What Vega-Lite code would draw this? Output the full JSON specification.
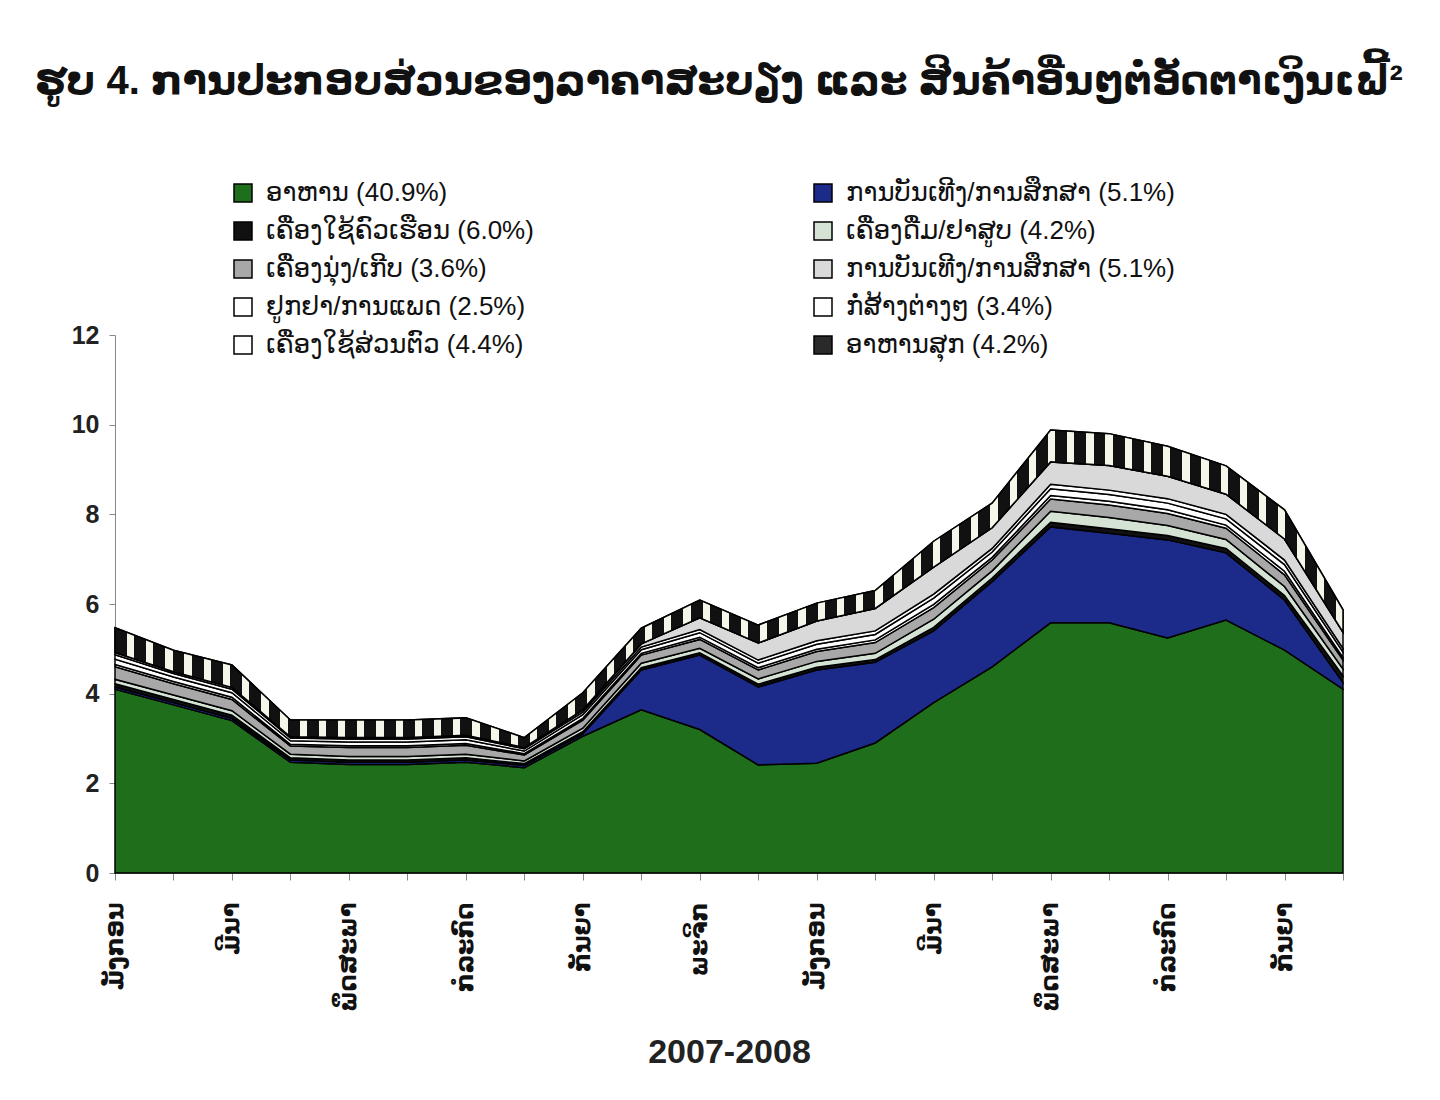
{
  "$schema": "https://vega.github.io/schema/vega-lite/v6.json",
  "width": 1228,
  "height": 538,
  "autosize": {"type": "none"},
  "padding": {"left": 115, "top": 335, "right": 97, "bottom": 227},
  "background": "white",
  "title": {
    "text": "ຮູບ 4. ການປະກອບສ່ວນຂອງລາຄາສະບຽງ ແລະ ສິນຄ້າອື່ນໆຕໍ່ອັດຕາເງິນເຟີ້²",
    "anchor": "start",
    "frame": "group",
    "font": "Liberation Sans, DejaVu Sans",
    "fontSize": 40,
    "fontWeight": "bold",
    "color": "#111111",
    "dx": -80,
    "offset": 78
  },
  "data": {
    "values": [
      {"m":"2007-01","c":"c01","v":4.1},{"m":"2007-01","c":"c02","v":0.05},{"m":"2007-01","c":"c03","v":0.07},{"m":"2007-01","c":"c04","v":0.1},{"m":"2007-01","c":"c05","v":0.28},{"m":"2007-01","c":"c06","v":0.05},{"m":"2007-01","c":"c07","v":0.12},{"m":"2007-01","c":"c08","v":0.1},{"m":"2007-01","c":"c09","v":0.05},{"m":"2007-01","c":"c10","v":0.55},
      {"m":"2007-02","c":"c01","v":3.75},{"m":"2007-02","c":"c02","v":0.05},{"m":"2007-02","c":"c03","v":0.07},{"m":"2007-02","c":"c04","v":0.1},{"m":"2007-02","c":"c05","v":0.25},{"m":"2007-02","c":"c06","v":0.05},{"m":"2007-02","c":"c07","v":0.1},{"m":"2007-02","c":"c08","v":0.08},{"m":"2007-02","c":"c09","v":0.04},{"m":"2007-02","c":"c10","v":0.48},
      {"m":"2007-03","c":"c01","v":3.4},{"m":"2007-03","c":"c02","v":0.05},{"m":"2007-03","c":"c03","v":0.07},{"m":"2007-03","c":"c04","v":0.1},{"m":"2007-03","c":"c05","v":0.25},{"m":"2007-03","c":"c06","v":0.05},{"m":"2007-03","c":"c07","v":0.1},{"m":"2007-03","c":"c08","v":0.08},{"m":"2007-03","c":"c09","v":0.04},{"m":"2007-03","c":"c10","v":0.5},
      {"m":"2007-04","c":"c01","v":2.47},{"m":"2007-04","c":"c02","v":0.05},{"m":"2007-04","c":"c03","v":0.05},{"m":"2007-04","c":"c04","v":0.08},{"m":"2007-04","c":"c05","v":0.18},{"m":"2007-04","c":"c06","v":0.04},{"m":"2007-04","c":"c07","v":0.08},{"m":"2007-04","c":"c08","v":0.06},{"m":"2007-04","c":"c09","v":0.03},{"m":"2007-04","c":"c10","v":0.37},
      {"m":"2007-05","c":"c01","v":2.42},{"m":"2007-05","c":"c02","v":0.05},{"m":"2007-05","c":"c03","v":0.05},{"m":"2007-05","c":"c04","v":0.08},{"m":"2007-05","c":"c05","v":0.2},{"m":"2007-05","c":"c06","v":0.04},{"m":"2007-05","c":"c07","v":0.08},{"m":"2007-05","c":"c08","v":0.07},{"m":"2007-05","c":"c09","v":0.03},{"m":"2007-05","c":"c10","v":0.39},
      {"m":"2007-06","c":"c01","v":2.42},{"m":"2007-06","c":"c02","v":0.05},{"m":"2007-06","c":"c03","v":0.05},{"m":"2007-06","c":"c04","v":0.08},{"m":"2007-06","c":"c05","v":0.2},{"m":"2007-06","c":"c06","v":0.04},{"m":"2007-06","c":"c07","v":0.08},{"m":"2007-06","c":"c08","v":0.07},{"m":"2007-06","c":"c09","v":0.03},{"m":"2007-06","c":"c10","v":0.39},
      {"m":"2007-07","c":"c01","v":2.47},{"m":"2007-07","c":"c02","v":0.05},{"m":"2007-07","c":"c03","v":0.05},{"m":"2007-07","c":"c04","v":0.08},{"m":"2007-07","c":"c05","v":0.2},{"m":"2007-07","c":"c06","v":0.04},{"m":"2007-07","c":"c07","v":0.08},{"m":"2007-07","c":"c08","v":0.07},{"m":"2007-07","c":"c09","v":0.03},{"m":"2007-07","c":"c10","v":0.39},
      {"m":"2007-08","c":"c01","v":2.35},{"m":"2007-08","c":"c02","v":0.05},{"m":"2007-08","c":"c03","v":0.04},{"m":"2007-08","c":"c04","v":0.06},{"m":"2007-08","c":"c05","v":0.13},{"m":"2007-08","c":"c06","v":0.03},{"m":"2007-08","c":"c07","v":0.06},{"m":"2007-08","c":"c08","v":0.05},{"m":"2007-08","c":"c09","v":0.03},{"m":"2007-08","c":"c10","v":0.22},
      {"m":"2007-09","c":"c01","v":3.05},{"m":"2007-09","c":"c02","v":0.05},{"m":"2007-09","c":"c03","v":0.05},{"m":"2007-09","c":"c04","v":0.08},{"m":"2007-09","c":"c05","v":0.18},{"m":"2007-09","c":"c06","v":0.04},{"m":"2007-09","c":"c07","v":0.08},{"m":"2007-09","c":"c08","v":0.06},{"m":"2007-09","c":"c09","v":0.05},{"m":"2007-09","c":"c10","v":0.38},
      {"m":"2007-10","c":"c01","v":3.64},{"m":"2007-10","c":"c02","v":0.89},{"m":"2007-10","c":"c03","v":0.05},{"m":"2007-10","c":"c04","v":0.1},{"m":"2007-10","c":"c05","v":0.18},{"m":"2007-10","c":"c06","v":0.04},{"m":"2007-10","c":"c07","v":0.08},{"m":"2007-10","c":"c08","v":0.06},{"m":"2007-10","c":"c09","v":0.07},{"m":"2007-10","c":"c10","v":0.35},
      {"m":"2007-11","c":"c01","v":3.2},{"m":"2007-11","c":"c02","v":1.66},{"m":"2007-11","c":"c03","v":0.05},{"m":"2007-11","c":"c04","v":0.1},{"m":"2007-11","c":"c05","v":0.2},{"m":"2007-11","c":"c06","v":0.05},{"m":"2007-11","c":"c07","v":0.1},{"m":"2007-11","c":"c08","v":0.07},{"m":"2007-11","c":"c09","v":0.26},{"m":"2007-11","c":"c10","v":0.4},
      {"m":"2007-12","c":"c01","v":2.41},{"m":"2007-12","c":"c02","v":1.74},{"m":"2007-12","c":"c03","v":0.06},{"m":"2007-12","c":"c04","v":0.12},{"m":"2007-12","c":"c05","v":0.2},{"m":"2007-12","c":"c06","v":0.05},{"m":"2007-12","c":"c07","v":0.1},{"m":"2007-12","c":"c08","v":0.07},{"m":"2007-12","c":"c09","v":0.38},{"m":"2007-12","c":"c10","v":0.4},
      {"m":"2008-01","c":"c01","v":2.45},{"m":"2008-01","c":"c02","v":2.08},{"m":"2008-01","c":"c03","v":0.06},{"m":"2008-01","c":"c04","v":0.13},{"m":"2008-01","c":"c05","v":0.22},{"m":"2008-01","c":"c06","v":0.05},{"m":"2008-01","c":"c07","v":0.11},{"m":"2008-01","c":"c08","v":0.08},{"m":"2008-01","c":"c09","v":0.44},{"m":"2008-01","c":"c10","v":0.4},
      {"m":"2008-02","c":"c01","v":2.9},{"m":"2008-02","c":"c02","v":1.8},{"m":"2008-02","c":"c03","v":0.06},{"m":"2008-02","c":"c04","v":0.14},{"m":"2008-02","c":"c05","v":0.24},{"m":"2008-02","c":"c06","v":0.06},{"m":"2008-02","c":"c07","v":0.12},{"m":"2008-02","c":"c08","v":0.08},{"m":"2008-02","c":"c09","v":0.5},{"m":"2008-02","c":"c10","v":0.4},
      {"m":"2008-03","c":"c01","v":3.8},{"m":"2008-03","c":"c02","v":1.6},{"m":"2008-03","c":"c03","v":0.08},{"m":"2008-03","c":"c04","v":0.18},{"m":"2008-03","c":"c05","v":0.26},{"m":"2008-03","c":"c06","v":0.07},{"m":"2008-03","c":"c07","v":0.14},{"m":"2008-03","c":"c08","v":0.09},{"m":"2008-03","c":"c09","v":0.6},{"m":"2008-03","c":"c10","v":0.58},
      {"m":"2008-04","c":"c01","v":4.6},{"m":"2008-04","c":"c02","v":1.9},{"m":"2008-04","c":"c03","v":0.08},{"m":"2008-04","c":"c04","v":0.16},{"m":"2008-04","c":"c05","v":0.24},{"m":"2008-04","c":"c06","v":0.06},{"m":"2008-04","c":"c07","v":0.12},{"m":"2008-04","c":"c08","v":0.08},{"m":"2008-04","c":"c09","v":0.46},{"m":"2008-04","c":"c10","v":0.55},
      {"m":"2008-05","c":"c01","v":5.58},{"m":"2008-05","c":"c02","v":2.14},{"m":"2008-05","c":"c03","v":0.1},{"m":"2008-05","c":"c04","v":0.25},{"m":"2008-05","c":"c05","v":0.27},{"m":"2008-05","c":"c06","v":0.08},{"m":"2008-05","c":"c07","v":0.15},{"m":"2008-05","c":"c08","v":0.1},{"m":"2008-05","c":"c09","v":0.5},{"m":"2008-05","c":"c10","v":0.71},
      {"m":"2008-06","c":"c01","v":5.58},{"m":"2008-06","c":"c02","v":2.0},{"m":"2008-06","c":"c03","v":0.1},{"m":"2008-06","c":"c04","v":0.25},{"m":"2008-06","c":"c05","v":0.28},{"m":"2008-06","c":"c06","v":0.08},{"m":"2008-06","c":"c07","v":0.15},{"m":"2008-06","c":"c08","v":0.1},{"m":"2008-06","c":"c09","v":0.55},{"m":"2008-06","c":"c10","v":0.71},
      {"m":"2008-07","c":"c01","v":5.24},{"m":"2008-07","c":"c02","v":2.19},{"m":"2008-07","c":"c03","v":0.1},{"m":"2008-07","c":"c04","v":0.22},{"m":"2008-07","c":"c05","v":0.27},{"m":"2008-07","c":"c06","v":0.08},{"m":"2008-07","c":"c07","v":0.15},{"m":"2008-07","c":"c08","v":0.1},{"m":"2008-07","c":"c09","v":0.5},{"m":"2008-07","c":"c10","v":0.67},
      {"m":"2008-08","c":"c01","v":5.64},{"m":"2008-08","c":"c02","v":1.5},{"m":"2008-08","c":"c03","v":0.1},{"m":"2008-08","c":"c04","v":0.2},{"m":"2008-08","c":"c05","v":0.25},{"m":"2008-08","c":"c06","v":0.07},{"m":"2008-08","c":"c07","v":0.14},{"m":"2008-08","c":"c08","v":0.1},{"m":"2008-08","c":"c09","v":0.45},{"m":"2008-08","c":"c10","v":0.63},
      {"m":"2008-09","c":"c01","v":4.97},{"m":"2008-09","c":"c02","v":1.12},{"m":"2008-09","c":"c03","v":0.1},{"m":"2008-09","c":"c04","v":0.2},{"m":"2008-09","c":"c05","v":0.26},{"m":"2008-09","c":"c06","v":0.08},{"m":"2008-09","c":"c07","v":0.15},{"m":"2008-09","c":"c08","v":0.1},{"m":"2008-09","c":"c09","v":0.47},{"m":"2008-09","c":"c10","v":0.65},
      {"m":"2008-10","c":"c01","v":4.1},{"m":"2008-10","c":"c02","v":0.15},{"m":"2008-10","c":"c03","v":0.15},{"m":"2008-10","c":"c04","v":0.15},{"m":"2008-10","c":"c05","v":0.2},{"m":"2008-10","c":"c06","v":0.06},{"m":"2008-10","c":"c07","v":0.12},{"m":"2008-10","c":"c08","v":0.08},{"m":"2008-10","c":"c09","v":0.36},{"m":"2008-10","c":"c10","v":0.5}
    ]
  },
  "transform": [
    {"stack": "v", "groupby": ["m"], "sort": [{"field": "c", "order": "ascending"}], "as": ["y0", "y1"]}
  ],
  "encoding": {
    "x": {
      "field": "m",
      "type": "ordinal",
      "scale": {"type": "point", "padding": 0},
      "axis": {
        "title": "2007-2008",
        "labelAngle": -90,
        "labelExpr": "['ມັງກອນ','','ມີນາ','','ພຶດສະພາ','','ກໍລະກົດ','','ກັນຍາ','','ພະຈິກ',''][toNumber(slice(datum.value,5,7))-1]",
        "labelFont": "Liberation Sans, DejaVu Sans",
        "labelFontSize": 24,
        "labelFontWeight": "bold",
        "labelColor": "#111111",
        "labelPadding": 22,
        "labelOverlap": false,
        "tickSize": 7,
        "tickColor": "#888888",
        "domainColor": "#888888",
        "titleFont": "Liberation Sans, DejaVu Sans",
        "titleFontSize": 34,
        "titleFontWeight": "bold",
        "titleColor": "#222222",
        "titlePadding": 24
      }
    },
    "y": {
      "field": "y1",
      "type": "quantitative",
      "scale": {"domain": [0, 12], "nice": false},
      "axis": {
        "title": null,
        "values": [0, 2, 4, 6, 8, 10, 12],
        "grid": false,
        "labelFont": "Liberation Sans, DejaVu Sans",
        "labelFontSize": 25,
        "labelFontWeight": "bold",
        "labelColor": "#222222",
        "labelPadding": 10,
        "tickSize": 6,
        "tickColor": "#888888",
        "domainColor": "#888888"
      }
    },
    "y2": {"field": "y0"}
  },
  "layer": [
    {
      "mark": {"type": "area", "interpolate": "linear", "stroke": "#000000", "strokeWidth": 1.5, "opacity": 1},
      "encoding": {
        "color": {
          "field": "c",
          "type": "nominal",
          "scale": {
            "domain": ["c01", "c03", "c05", "c06", "c08", "c02", "c04", "c09", "c07", "c10"],
            "range": ["#1f6e1c", "#111111", "#a8a8a8", "#ffffff", "#ffffff", "#1c2a8a", "#d5e3d5", "#d9d9d9", "#ffffff", "#2a2a2a"]
          },
          "legend": {
            "title": null,
            "orient": "none",
            "legendX": 115,
            "legendY": -155,
            "columns": 2,
            "columnPadding": 276,
            "rowPadding": 12,
            "symbolType": "square",
            "symbolSize": 324,
            "symbolStrokeColor": "#000000",
            "symbolStrokeWidth": 1.5,
            "symbolOpacity": 1,
            "labelFont": "Liberation Sans, DejaVu Sans",
            "labelFontSize": 26,
            "labelColor": "#111111",
            "labelOffset": 10,
            "labelLimit": 600,
            "labelExpr": "{c01:'ອາຫານ (40.9%)',c02:'ການບັນເທີງ/ການສຶກສາ (5.1%)',c03:'ເຄື່ອງໃຊ້ຄົວເຮືອນ (6.0%)',c04:'ເຄື່ອງດື່ມ/ຢາສູບ (4.2%)',c05:'ເຄື່ອງນຸ່ງ/ເກີບ (3.6%)',c09:'ການບັນເທີງ/ການສຶກສາ (5.1%)',c06:'ຢູກຢາ/ການແພດ (2.5%)',c07:'ກໍ່ສ້າງຕ່າງໆ (3.4%)',c08:'ເຄື່ອງໃຊ້ສ່ວນຕົວ (4.4%)',c10:'ອາຫານສຸກ (4.2%)'}[datum.value]"
          }
        }
      }
    },
    {
      "transform": [{"filter": "datum.c === 'c10'"}],
      "mark": {
        "type": "area",
        "interpolate": "linear",
        "stroke": "#000000",
        "strokeWidth": 1.5,
        "opacity": 1,
        "fill": {
          "gradient": "linear",
          "x1": 0, "y1": 0, "x2": 1, "y2": 0,
          "stops": [
            {"offset":0,"color":"#111"},{"offset":0.0097,"color":"#111"},{"offset":0.0097,"color":"#f5f5ea"},{"offset":0.015625,"color":"#f5f5ea"},
            {"offset":0.015625,"color":"#111"},{"offset":0.025325,"color":"#111"},{"offset":0.025325,"color":"#f5f5ea"},{"offset":0.03125,"color":"#f5f5ea"},
            {"offset":0.03125,"color":"#111"},{"offset":0.04095,"color":"#111"},{"offset":0.04095,"color":"#f5f5ea"},{"offset":0.046875,"color":"#f5f5ea"},
            {"offset":0.046875,"color":"#111"},{"offset":0.056575,"color":"#111"},{"offset":0.056575,"color":"#f5f5ea"},{"offset":0.0625,"color":"#f5f5ea"},
            {"offset":0.0625,"color":"#111"},{"offset":0.0722,"color":"#111"},{"offset":0.0722,"color":"#f5f5ea"},{"offset":0.078125,"color":"#f5f5ea"},
            {"offset":0.078125,"color":"#111"},{"offset":0.087825,"color":"#111"},{"offset":0.087825,"color":"#f5f5ea"},{"offset":0.09375,"color":"#f5f5ea"},
            {"offset":0.09375,"color":"#111"},{"offset":0.10345,"color":"#111"},{"offset":0.10345,"color":"#f5f5ea"},{"offset":0.109375,"color":"#f5f5ea"},
            {"offset":0.109375,"color":"#111"},{"offset":0.119075,"color":"#111"},{"offset":0.119075,"color":"#f5f5ea"},{"offset":0.125,"color":"#f5f5ea"},
            {"offset":0.125,"color":"#111"},{"offset":0.1347,"color":"#111"},{"offset":0.1347,"color":"#f5f5ea"},{"offset":0.140625,"color":"#f5f5ea"},
            {"offset":0.140625,"color":"#111"},{"offset":0.150325,"color":"#111"},{"offset":0.150325,"color":"#f5f5ea"},{"offset":0.15625,"color":"#f5f5ea"},
            {"offset":0.15625,"color":"#111"},{"offset":0.16595,"color":"#111"},{"offset":0.16595,"color":"#f5f5ea"},{"offset":0.171875,"color":"#f5f5ea"},
            {"offset":0.171875,"color":"#111"},{"offset":0.181575,"color":"#111"},{"offset":0.181575,"color":"#f5f5ea"},{"offset":0.1875,"color":"#f5f5ea"},
            {"offset":0.1875,"color":"#111"},{"offset":0.1972,"color":"#111"},{"offset":0.1972,"color":"#f5f5ea"},{"offset":0.203125,"color":"#f5f5ea"},
            {"offset":0.203125,"color":"#111"},{"offset":0.212825,"color":"#111"},{"offset":0.212825,"color":"#f5f5ea"},{"offset":0.21875,"color":"#f5f5ea"},
            {"offset":0.21875,"color":"#111"},{"offset":0.22845,"color":"#111"},{"offset":0.22845,"color":"#f5f5ea"},{"offset":0.234375,"color":"#f5f5ea"},
            {"offset":0.234375,"color":"#111"},{"offset":0.244075,"color":"#111"},{"offset":0.244075,"color":"#f5f5ea"},{"offset":0.25,"color":"#f5f5ea"},
            {"offset":0.25,"color":"#111"},{"offset":0.2597,"color":"#111"},{"offset":0.2597,"color":"#f5f5ea"},{"offset":0.265625,"color":"#f5f5ea"},
            {"offset":0.265625,"color":"#111"},{"offset":0.275325,"color":"#111"},{"offset":0.275325,"color":"#f5f5ea"},{"offset":0.28125,"color":"#f5f5ea"},
            {"offset":0.28125,"color":"#111"},{"offset":0.29095,"color":"#111"},{"offset":0.29095,"color":"#f5f5ea"},{"offset":0.296875,"color":"#f5f5ea"},
            {"offset":0.296875,"color":"#111"},{"offset":0.306575,"color":"#111"},{"offset":0.306575,"color":"#f5f5ea"},{"offset":0.3125,"color":"#f5f5ea"},
            {"offset":0.3125,"color":"#111"},{"offset":0.3222,"color":"#111"},{"offset":0.3222,"color":"#f5f5ea"},{"offset":0.328125,"color":"#f5f5ea"},
            {"offset":0.328125,"color":"#111"},{"offset":0.337825,"color":"#111"},{"offset":0.337825,"color":"#f5f5ea"},{"offset":0.34375,"color":"#f5f5ea"},
            {"offset":0.34375,"color":"#111"},{"offset":0.35345,"color":"#111"},{"offset":0.35345,"color":"#f5f5ea"},{"offset":0.359375,"color":"#f5f5ea"},
            {"offset":0.359375,"color":"#111"},{"offset":0.369075,"color":"#111"},{"offset":0.369075,"color":"#f5f5ea"},{"offset":0.375,"color":"#f5f5ea"},
            {"offset":0.375,"color":"#111"},{"offset":0.3847,"color":"#111"},{"offset":0.3847,"color":"#f5f5ea"},{"offset":0.390625,"color":"#f5f5ea"},
            {"offset":0.390625,"color":"#111"},{"offset":0.400325,"color":"#111"},{"offset":0.400325,"color":"#f5f5ea"},{"offset":0.40625,"color":"#f5f5ea"},
            {"offset":0.40625,"color":"#111"},{"offset":0.41595,"color":"#111"},{"offset":0.41595,"color":"#f5f5ea"},{"offset":0.421875,"color":"#f5f5ea"},
            {"offset":0.421875,"color":"#111"},{"offset":0.431575,"color":"#111"},{"offset":0.431575,"color":"#f5f5ea"},{"offset":0.4375,"color":"#f5f5ea"},
            {"offset":0.4375,"color":"#111"},{"offset":0.4472,"color":"#111"},{"offset":0.4472,"color":"#f5f5ea"},{"offset":0.453125,"color":"#f5f5ea"},
            {"offset":0.453125,"color":"#111"},{"offset":0.462825,"color":"#111"},{"offset":0.462825,"color":"#f5f5ea"},{"offset":0.46875,"color":"#f5f5ea"},
            {"offset":0.46875,"color":"#111"},{"offset":0.47845,"color":"#111"},{"offset":0.47845,"color":"#f5f5ea"},{"offset":0.484375,"color":"#f5f5ea"},
            {"offset":0.484375,"color":"#111"},{"offset":0.494075,"color":"#111"},{"offset":0.494075,"color":"#f5f5ea"},{"offset":0.5,"color":"#f5f5ea"},
            {"offset":0.5,"color":"#111"},{"offset":0.5097,"color":"#111"},{"offset":0.5097,"color":"#f5f5ea"},{"offset":0.515625,"color":"#f5f5ea"},
            {"offset":0.515625,"color":"#111"},{"offset":0.525325,"color":"#111"},{"offset":0.525325,"color":"#f5f5ea"},{"offset":0.53125,"color":"#f5f5ea"},
            {"offset":0.53125,"color":"#111"},{"offset":0.54095,"color":"#111"},{"offset":0.54095,"color":"#f5f5ea"},{"offset":0.546875,"color":"#f5f5ea"},
            {"offset":0.546875,"color":"#111"},{"offset":0.556575,"color":"#111"},{"offset":0.556575,"color":"#f5f5ea"},{"offset":0.5625,"color":"#f5f5ea"},
            {"offset":0.5625,"color":"#111"},{"offset":0.5722,"color":"#111"},{"offset":0.5722,"color":"#f5f5ea"},{"offset":0.578125,"color":"#f5f5ea"},
            {"offset":0.578125,"color":"#111"},{"offset":0.587825,"color":"#111"},{"offset":0.587825,"color":"#f5f5ea"},{"offset":0.59375,"color":"#f5f5ea"},
            {"offset":0.59375,"color":"#111"},{"offset":0.60345,"color":"#111"},{"offset":0.60345,"color":"#f5f5ea"},{"offset":0.609375,"color":"#f5f5ea"},
            {"offset":0.609375,"color":"#111"},{"offset":0.619075,"color":"#111"},{"offset":0.619075,"color":"#f5f5ea"},{"offset":0.625,"color":"#f5f5ea"},
            {"offset":0.625,"color":"#111"},{"offset":0.6347,"color":"#111"},{"offset":0.6347,"color":"#f5f5ea"},{"offset":0.640625,"color":"#f5f5ea"},
            {"offset":0.640625,"color":"#111"},{"offset":0.650325,"color":"#111"},{"offset":0.650325,"color":"#f5f5ea"},{"offset":0.65625,"color":"#f5f5ea"},
            {"offset":0.65625,"color":"#111"},{"offset":0.66595,"color":"#111"},{"offset":0.66595,"color":"#f5f5ea"},{"offset":0.671875,"color":"#f5f5ea"},
            {"offset":0.671875,"color":"#111"},{"offset":0.681575,"color":"#111"},{"offset":0.681575,"color":"#f5f5ea"},{"offset":0.6875,"color":"#f5f5ea"},
            {"offset":0.6875,"color":"#111"},{"offset":0.6972,"color":"#111"},{"offset":0.6972,"color":"#f5f5ea"},{"offset":0.703125,"color":"#f5f5ea"},
            {"offset":0.703125,"color":"#111"},{"offset":0.712825,"color":"#111"},{"offset":0.712825,"color":"#f5f5ea"},{"offset":0.71875,"color":"#f5f5ea"},
            {"offset":0.71875,"color":"#111"},{"offset":0.72845,"color":"#111"},{"offset":0.72845,"color":"#f5f5ea"},{"offset":0.734375,"color":"#f5f5ea"},
            {"offset":0.734375,"color":"#111"},{"offset":0.744075,"color":"#111"},{"offset":0.744075,"color":"#f5f5ea"},{"offset":0.75,"color":"#f5f5ea"},
            {"offset":0.75,"color":"#111"},{"offset":0.7597,"color":"#111"},{"offset":0.7597,"color":"#f5f5ea"},{"offset":0.765625,"color":"#f5f5ea"},
            {"offset":0.765625,"color":"#111"},{"offset":0.775325,"color":"#111"},{"offset":0.775325,"color":"#f5f5ea"},{"offset":0.78125,"color":"#f5f5ea"},
            {"offset":0.78125,"color":"#111"},{"offset":0.79095,"color":"#111"},{"offset":0.79095,"color":"#f5f5ea"},{"offset":0.796875,"color":"#f5f5ea"},
            {"offset":0.796875,"color":"#111"},{"offset":0.806575,"color":"#111"},{"offset":0.806575,"color":"#f5f5ea"},{"offset":0.8125,"color":"#f5f5ea"},
            {"offset":0.8125,"color":"#111"},{"offset":0.8222,"color":"#111"},{"offset":0.8222,"color":"#f5f5ea"},{"offset":0.828125,"color":"#f5f5ea"},
            {"offset":0.828125,"color":"#111"},{"offset":0.837825,"color":"#111"},{"offset":0.837825,"color":"#f5f5ea"},{"offset":0.84375,"color":"#f5f5ea"},
            {"offset":0.84375,"color":"#111"},{"offset":0.85345,"color":"#111"},{"offset":0.85345,"color":"#f5f5ea"},{"offset":0.859375,"color":"#f5f5ea"},
            {"offset":0.859375,"color":"#111"},{"offset":0.869075,"color":"#111"},{"offset":0.869075,"color":"#f5f5ea"},{"offset":0.875,"color":"#f5f5ea"},
            {"offset":0.875,"color":"#111"},{"offset":0.8847,"color":"#111"},{"offset":0.8847,"color":"#f5f5ea"},{"offset":0.890625,"color":"#f5f5ea"},
            {"offset":0.890625,"color":"#111"},{"offset":0.900325,"color":"#111"},{"offset":0.900325,"color":"#f5f5ea"},{"offset":0.90625,"color":"#f5f5ea"},
            {"offset":0.90625,"color":"#111"},{"offset":0.91595,"color":"#111"},{"offset":0.91595,"color":"#f5f5ea"},{"offset":0.921875,"color":"#f5f5ea"},
            {"offset":0.921875,"color":"#111"},{"offset":0.931575,"color":"#111"},{"offset":0.931575,"color":"#f5f5ea"},{"offset":0.9375,"color":"#f5f5ea"},
            {"offset":0.9375,"color":"#111"},{"offset":0.9472,"color":"#111"},{"offset":0.9472,"color":"#f5f5ea"},{"offset":0.953125,"color":"#f5f5ea"},
            {"offset":0.953125,"color":"#111"},{"offset":0.962825,"color":"#111"},{"offset":0.962825,"color":"#f5f5ea"},{"offset":0.96875,"color":"#f5f5ea"},
            {"offset":0.96875,"color":"#111"},{"offset":0.97845,"color":"#111"},{"offset":0.97845,"color":"#f5f5ea"},{"offset":0.984375,"color":"#f5f5ea"},
            {"offset":0.984375,"color":"#111"},{"offset":0.994075,"color":"#111"},{"offset":0.994075,"color":"#f5f5ea"},{"offset":1,"color":"#f5f5ea"}
          ]
        }
      },
      "encoding": {}
    }
  ],
  "config": {
    "view": {"stroke": null}
  }
}
